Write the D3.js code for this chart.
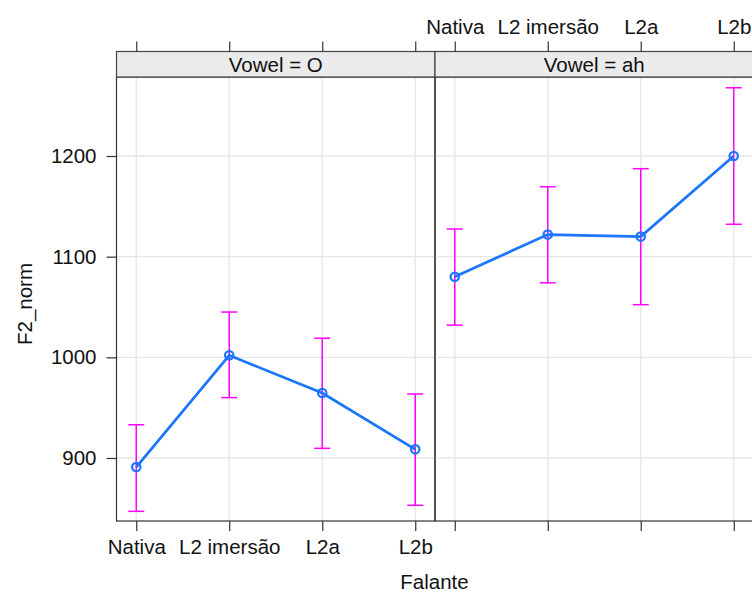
<!DOCTYPE html>
<meta charset="utf-8">
<style>
body { margin: 0; background: #fff; }
text { font-family: "Liberation Sans", Arial, sans-serif; font-size: 20.5px; fill: #111; }
</style>
<body>
<script src="https://d3js.org/d3.v7.min.js"></script>
<script>

var falante = ["Nativa", "L2 imersão", "L2a", "L2b"];
var vowels = ["O", "ah"];

// means and upper / lower ends of the error bars, per vowel
var meanO  = [891, 1002, 964.5, 908.6];
var upperO = [933, 1045, 1019, 963.6];
var lowerO = [847, 960, 909.6, 853];

var meanAh  = [1080, 1122, 1120, 1200];
var upperAh = [1127.5, 1169.5, 1187.4, 1267.8];
var lowerAh = [1032, 1074, 1052.3, 1132.2];

var yTicks = [900, 1000, 1100, 1200];

var panels = [
  {vowel: vowels[0], mean: meanO, upper: upperO, lower: lowerO},
  {vowel: vowels[1], mean: meanAh, upper: upperAh, lower: lowerAh}
];

var panelLeft = 116.5, panelW = 318.5,
    stripTop = 51.5, panelTop = 77, panelBottom = 521;

var svg = d3.select("body").append("svg")
    .attr("width", 752)
    .attr("height", 592);

var y = d3.scaleLinear()
    .domain([837.4, 1278.5])
    .range([panelBottom, panelTop]);

var x = d3.scalePoint()
    .domain(falante)
    .range([0, panelW])
    .padding(0.2125);

panels.forEach(function(p, i) {
  var g = svg.append("g")
      .attr("transform", "translate(" + (panelLeft + i * panelW) + ",0)");

  // grid
  g.selectAll(".vgrid").data(falante).enter().append("line")
      .attr("x1", function(d) { return x(d); })
      .attr("x2", function(d) { return x(d); })
      .attr("y1", panelTop).attr("y2", panelBottom)
      .attr("stroke", "#e6e6e6").attr("stroke-width", 1.3);
  g.selectAll(".hgrid").data(yTicks).enter().append("line")
      .attr("x1", 0).attr("x2", panelW)
      .attr("y1", function(d) { return y(d); })
      .attr("y2", function(d) { return y(d); })
      .attr("stroke", "#e6e6e6").attr("stroke-width", 1.3);

  var rows = falante.map(function(f, j) {
    return {f: f, m: p.mean[j], hi: p.upper[j], lo: p.lower[j]};
  });

  // error bars
  var eb = g.selectAll(".eb").data(rows).enter().append("g")
      .attr("stroke", "#ff00ff").attr("stroke-width", 1.5);
  eb.append("line")
      .attr("x1", function(d) { return x(d.f); })
      .attr("x2", function(d) { return x(d.f); })
      .attr("y1", function(d) { return y(d.hi); })
      .attr("y2", function(d) { return y(d.lo); });
  eb.append("line")
      .attr("x1", function(d) { return x(d.f) - 8; })
      .attr("x2", function(d) { return x(d.f) + 8; })
      .attr("y1", function(d) { return y(d.hi); })
      .attr("y2", function(d) { return y(d.hi); });
  eb.append("line")
      .attr("x1", function(d) { return x(d.f) - 8; })
      .attr("x2", function(d) { return x(d.f) + 8; })
      .attr("y1", function(d) { return y(d.lo); })
      .attr("y2", function(d) { return y(d.lo); });

  // line + points
  g.append("path")
      .datum(rows)
      .attr("fill", "none")
      .attr("stroke", "#1a75ff")
      .attr("stroke-width", 2.7)
      .attr("d", d3.line()
        .x(function(d) { return x(d.f); })
        .y(function(d) { return y(d.m); }));
  g.selectAll(".pt").data(rows).enter().append("circle")
      .attr("cx", function(d) { return x(d.f); })
      .attr("cy", function(d) { return y(d.m); })
      .attr("r", 4.2)
      .attr("fill", "none")
      .attr("stroke", "#1a75ff")
      .attr("stroke-width", 2.2);

  // panel border
  g.append("rect")
      .attr("x", 0).attr("y", panelTop)
      .attr("width", panelW).attr("height", panelBottom - panelTop)
      .attr("fill", "none").attr("stroke", "#333").attr("stroke-width", 1.2);

  // strip
  g.append("rect")
      .attr("x", 0).attr("y", stripTop)
      .attr("width", panelW).attr("height", panelTop - stripTop)
      .attr("fill", "#ebebeb").attr("stroke", "#444").attr("stroke-width", 1.2);
  g.append("text")
      .attr("x", panelW / 2).attr("y", 72)
      .attr("text-anchor", "middle")
      .text("Vowel = " + p.vowel);

  // top ticks (labels only on right panel) and bottom ticks (labels only on left)
  var topAx = d3.axisTop(x).tickSize(10).tickPadding(8);
  if (i === 0) topAx.tickFormat("");
  var ta = g.append("g").attr("transform", "translate(0," + stripTop + ")").call(topAx);

  var botAx = d3.axisBottom(x).tickSize(10).tickPadding(8);
  if (i === 1) botAx.tickFormat("");
  var ba = g.append("g").attr("transform", "translate(0," + panelBottom + ")").call(botAx);

  [ta, ba].forEach(function(a) {
    a.select(".domain").remove();
    a.selectAll("line").attr("stroke", "#333").attr("stroke-width", 1.2);
    a.selectAll("text").style("font-size", "20.5px").attr("fill", "#111")
      .style("font-family", "'Liberation Sans', Arial, sans-serif");
  });
});

// y axis on the left
var ya = svg.append("g")
    .attr("transform", "translate(" + panelLeft + ",0)")
    .call(d3.axisLeft(y).tickValues(yTicks).tickFormat(d3.format("d"))
      .tickSize(10).tickPadding(10));
ya.select(".domain").remove();
ya.selectAll("line").attr("stroke", "#333").attr("stroke-width", 1.2);
ya.selectAll("text").style("font-size", "20.5px").attr("fill", "#111")
  .style("font-family", "'Liberation Sans', Arial, sans-serif");

svg.append("text")
    .attr("transform", "translate(32,304) rotate(-90)")
    .attr("text-anchor", "middle")
    .text("F2_norm");

svg.append("text")
    .attr("x", 434.5).attr("y", 589)
    .attr("text-anchor", "middle")
    .text("Falante");

</script>
</body>
